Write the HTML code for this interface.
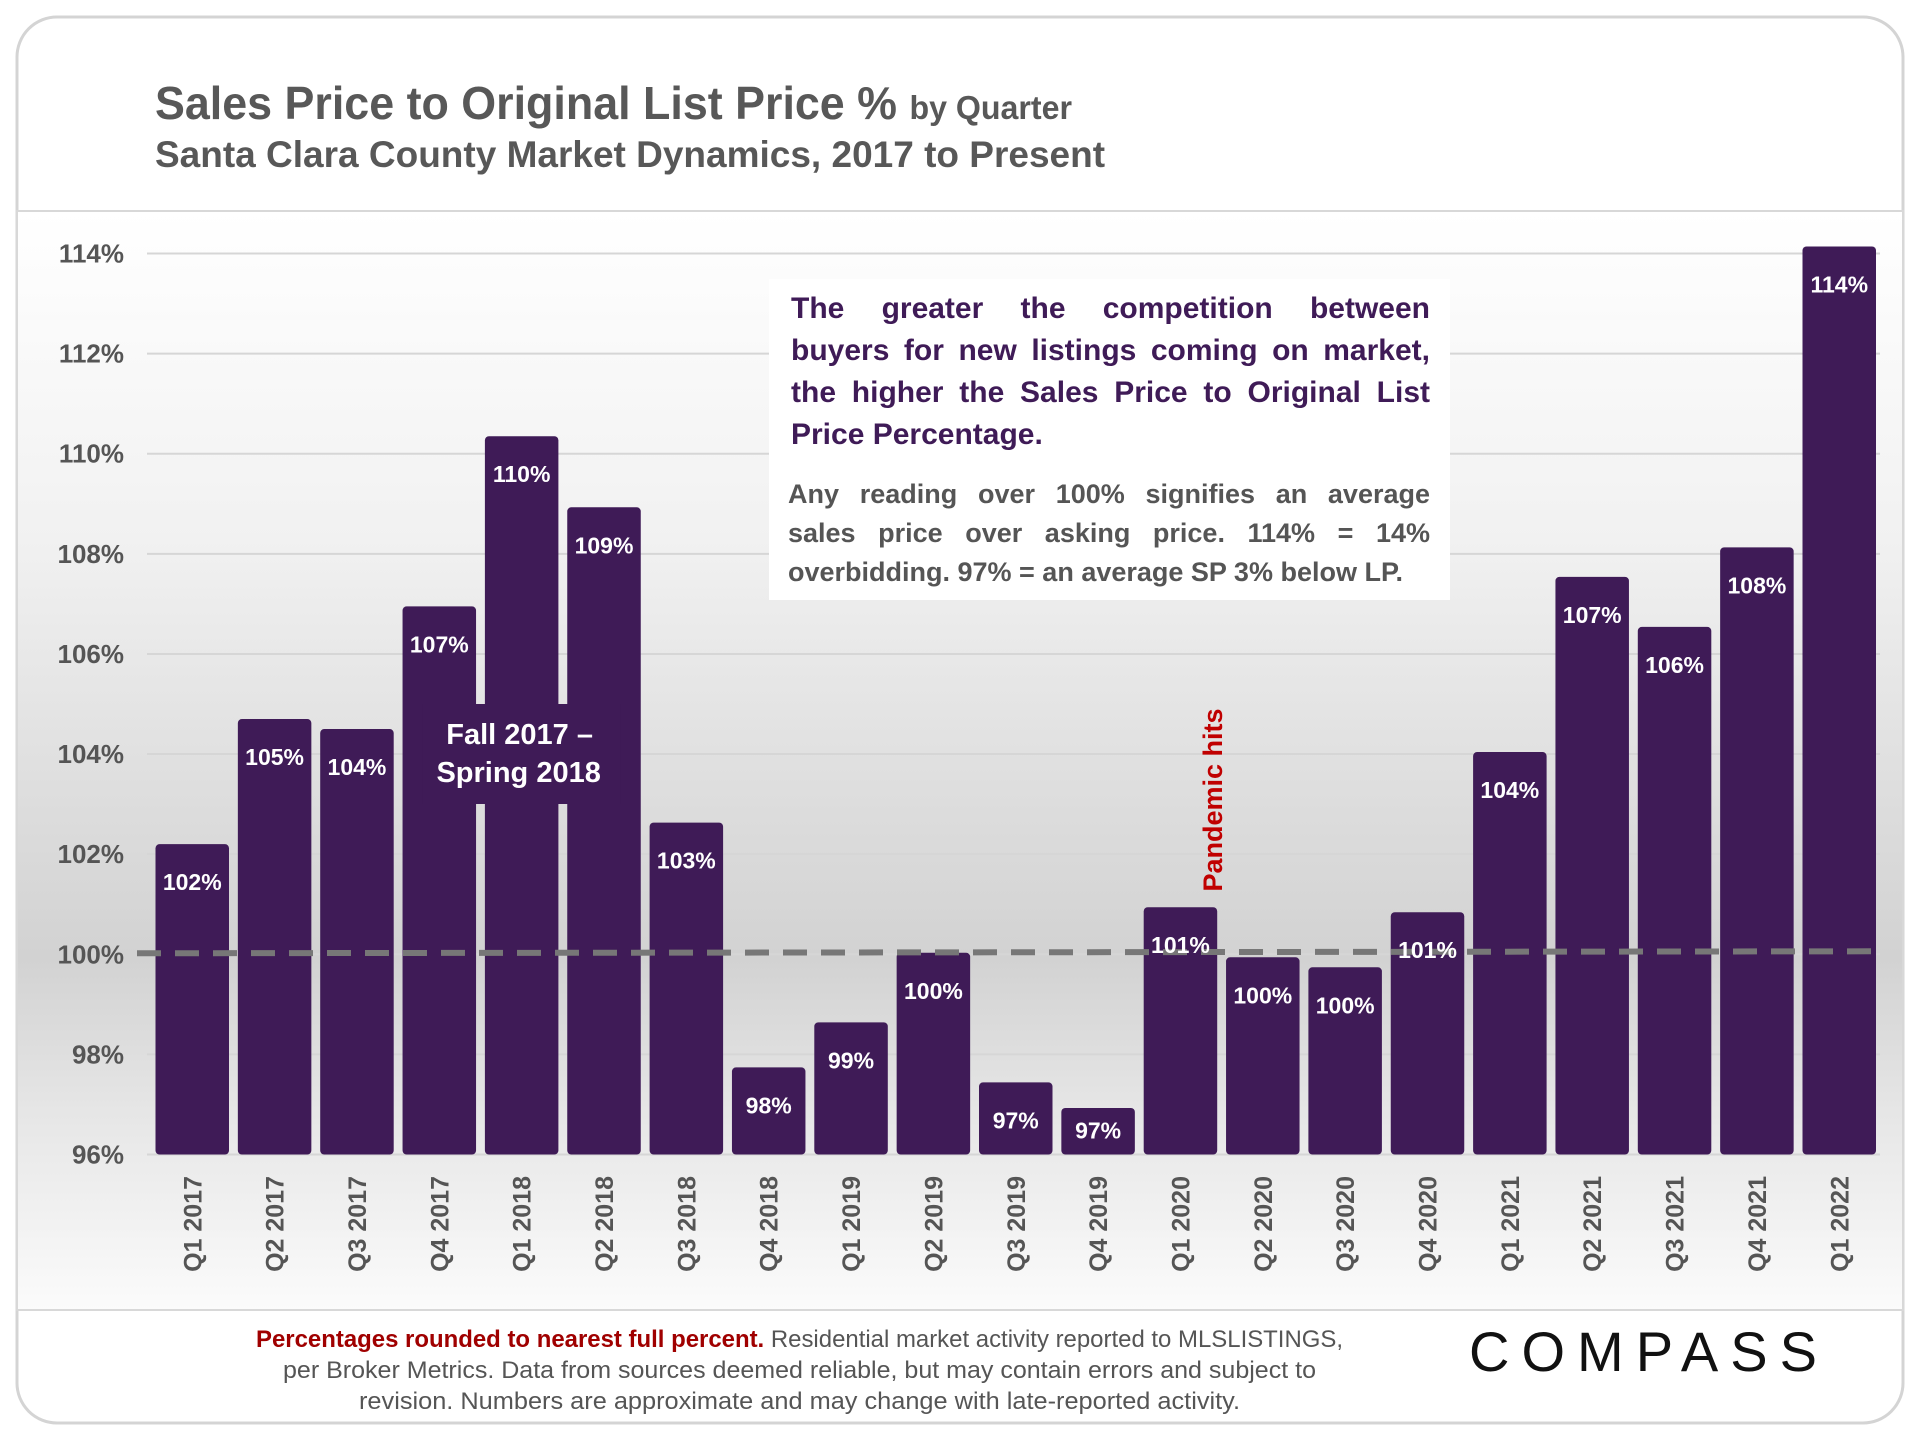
<!DOCTYPE html>
<html><head><meta charset="utf-8"><style>
html,body{margin:0;padding:0;background:#fff;}
svg{display:block;font-family:"Liberation Sans",sans-serif;}
</style></head><body>
<svg id="chart" width="1920" height="1440" viewBox="0 0 1920 1440" xmlns="http://www.w3.org/2000/svg">
<defs>
<linearGradient id="bg" x1="0" y1="0" x2="0" y2="1">
<stop offset="0" stop-color="#ffffff"/>
<stop offset="0.3" stop-color="#f1f1f1"/>
<stop offset="0.55" stop-color="#dcdcdc"/>
<stop offset="0.68" stop-color="#d2d2d2"/>
<stop offset="0.82" stop-color="#e6e6e6"/>
<stop offset="1" stop-color="#fbfbfb"/>
</linearGradient>
</defs>
<rect x="17" y="17" width="1886" height="1406" rx="40" fill="#fff" stroke="#d4d4d4" stroke-width="3"/>
<rect x="17" y="211" width="1886" height="1099" fill="url(#bg)" stroke="#d8d8d8" stroke-width="2"/>
<text x="155" y="119" font-size="46" font-weight="bold" fill="#585858" textLength="917" lengthAdjust="spacingAndGlyphs">Sales Price to Original List Price % <tspan font-size="33">by Quarter</tspan></text>
<text x="155" y="167" font-size="37" font-weight="bold" fill="#585858">Santa Clara County Market Dynamics, 2017 to Present</text>
<g id="grid"></g>
<g id="bars"></g>
<g id="xlabels"></g>
<rect x="769" y="279" width="681" height="321" fill="#fff"/>
<g id="annot" font-weight="bold">
<text class="just" x="791" y="318" font-size="30" fill="#3f1b57">The greater the competition between</text>
<text class="just" x="791" y="360" font-size="30" fill="#3f1b57">buyers for new listings coming on market,</text>
<text class="just" x="791" y="402" font-size="30" fill="#3f1b57">the higher the Sales Price to Original List</text>
<text x="791" y="444" font-size="30" fill="#3f1b57">Price Percentage.</text>
<text class="just" x="788" y="503" font-size="27" fill="#555">Any reading over 100% signifies an average</text>
<text class="just" x="788" y="542" font-size="27" fill="#555">sales price over asking price. 114% = 14%</text>
<text x="788" y="581" font-size="27" fill="#555">overbidding.  97% = an average SP 3% below LP.</text>
</g>
<text transform="translate(1222,800) rotate(-90)" text-anchor="middle" font-size="27" font-weight="bold" fill="#c00000">Pandemic hits</text>
<g font-family="'Liberation Sans Narrow','Liberation Sans',sans-serif" font-size="24" fill="#555">
<text x="256" y="1347" textLength="1087" lengthAdjust="spacingAndGlyphs"><tspan fill="#a00000" font-weight="bold">Percentages rounded to nearest full percent.</tspan> Residential market activity reported to MLSLISTINGS,</text>
<text x="283" y="1378" textLength="1033" lengthAdjust="spacingAndGlyphs">per Broker Metrics. Data from sources deemed reliable, but may contain errors and subject to</text>
<text x="359" y="1409" textLength="881" lengthAdjust="spacingAndGlyphs">revision. Numbers are approximate and may change with late-reported activity.</text>
</g>
<text x="1469" y="1371" font-size="56" fill="#111" textLength="348" lengthAdjust="spacing">COMPASS</text>
<script>
const categories=["Q1 2017","Q2 2017","Q3 2017","Q4 2017","Q1 2018","Q2 2018","Q3 2018","Q4 2018","Q1 2019","Q2 2019","Q3 2019","Q4 2019","Q1 2020","Q2 2020","Q3 2020","Q4 2020","Q1 2021","Q2 2021","Q3 2021","Q4 2021","Q1 2022"];
const values=[102.2,104.7,104.5,106.95,110.35,108.93,102.63,97.74,98.64,100.03,97.44,96.93,100.94,99.94,99.74,100.84,104.04,107.54,106.54,108.13,114.14];
const valueLabels=["102%","105%","104%","107%","110%","109%","103%","98%","99%","100%","97%","97%","101%","100%","100%","101%","104%","107%","106%","108%","114%"];
const yTicks=[96,98,100,102,104,106,108,110,112,114];
const yMin=96,yMax=114,yTop=253.5,yBot=1154.5;
const x0=155.5,pitch=82.35,bw=73.5;
const NS="http://www.w3.org/2000/svg";
function y(v){return yBot-(v-yMin)/(yMax-yMin)*(yBot-yTop);}
function xc(i){return x0+i*pitch+bw/2;}
function mk(tag,attrs,parent,txt){const e=document.createElementNS(NS,tag);for(const k in attrs)e.setAttribute(k,attrs[k]);if(txt!==undefined)e.textContent=txt;parent.appendChild(e);return e;}
const grid=document.getElementById('grid');
yTicks.forEach(t=>{
 const l=mk('line',{x1:147,x2:1880,y1:y(t),y2:y(t),stroke:'#d6d6d6','stroke-width':2},grid);
 
 
 const tx=mk('text',{x:124,y:y(t)+9,'text-anchor':'end','font-size':26,'font-weight':'bold',fill:'#555'},grid,t+'%');
 
 
});
const bars=document.getElementById('bars');
values.forEach((v,i)=>{
 const r=mk('rect',{x:x0+i*pitch,y:y(v),width:bw,height:yBot-y(v),rx:4,fill:'#3f1b57'},bars);
 
 
});
const fb=mk('rect',{x:x0+3*pitch+20,y:704,width:3*pitch-(pitch-bw)-40,height:100,fill:'#3f1b57'},bars);


const f1=mk('text',{x:xc(4)-2,y:744,'text-anchor':'middle','font-size':29,'font-weight':'bold',fill:'#fff'},bars,'Fall 2017 –');


const f2=mk('text',{x:xc(4)-3,y:782,'text-anchor':'middle','font-size':29,'font-weight':'bold',fill:'#fff'},bars,'Spring 2018');


const dl=mk('line',{x1:137,x2:1880,y1:y(100)-1,y2:y(100)-3,stroke:'#777','stroke-width':6,'stroke-dasharray':'24 14'},bars);


values.forEach((v,i)=>{
 const ly=Math.min(y(v)+46,yBot-16);
 const t=mk('text',{x:xc(i),y:ly,'text-anchor':'middle','font-size':23,'font-weight':'bold',fill:'#fff'},bars,valueLabels[i]);
 
 
});
const xl=document.getElementById('xlabels');
categories.forEach((c,i)=>{
 const t=mk('text',{transform:'translate('+(xc(i)+9)+',1176) rotate(-90)','text-anchor':'end','font-size':25,'font-weight':'bold',fill:'#555'},xl,c);
 
 
});
// justify annotation lines by word spacing
document.querySelectorAll('#annot text.just').forEach(t=>{
 const right=1430;
 const x=parseFloat(t.getAttribute('x'));
 const words=t.textContent.trim().split(/\s+/);
 const tl=t.getComputedTextLength();
 const gaps=words.length-1;
 const cur=tl;
 // natural spaces count included; add extra
 const extra=(right-x-cur)/gaps;
 if(extra>0) t.setAttribute('word-spacing',extra);
});
</script>
</svg>
</body></html>
